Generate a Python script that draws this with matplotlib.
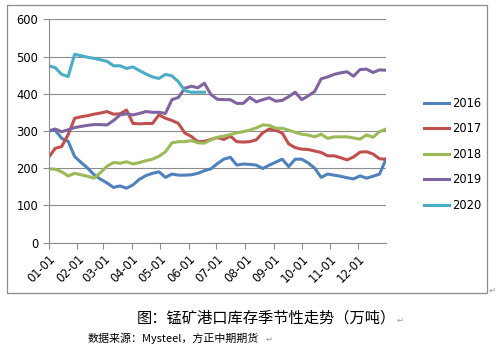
import matplotlib
matplotlib.use("Agg")
import matplotlib.pyplot as plt
from matplotlib.patches import Rectangle

# weekly port stock of manganese ore (10k tonnes), week 0 = Jan 1
s2016 = [300, 302, 280, 272, 231, 215, 200, 182, 170, 160, 148, 152, 146, 155, 170,
         180, 186, 190, 175, 184, 181, 181, 182, 186, 193, 198, 212, 224, 229, 208,
         211, 210, 208, 199, 208, 216, 224, 204, 224, 224, 214, 200, 175, 184, 181,
         178, 174, 171, 179, 173, 178, 184, 224]
s2017 = [229, 253, 258, 290, 334, 338, 341, 345, 348, 352, 345, 346, 356, 320, 319,
         320, 320, 343, 334, 328, 320, 294, 285, 271, 272, 277, 282, 277, 286, 271,
         270, 271, 276, 295, 305, 302, 294, 265, 255, 251, 250, 246, 242, 233, 233,
         228, 222, 230, 243, 244, 238, 225, 224]
s2018 = [198, 197, 190, 179, 186, 182, 178, 173, 188, 205, 215, 213, 217, 211, 215,
         220, 224, 232, 244, 268, 271, 271, 274, 268, 267, 276, 283, 286, 290, 295,
         298, 302, 308, 316, 315, 307, 307, 302, 296, 291, 289, 284, 291, 280, 284,
         284, 284, 281, 278, 289, 283, 298, 305]
s2019 = [300, 305, 298, 303, 309, 312, 315, 317, 317, 316, 328, 343, 346, 343, 347,
         352, 350, 350, 347, 384, 390, 415, 420, 416, 428, 398, 385, 384, 384, 374,
         374, 390, 378, 384, 389, 380, 382, 392, 404, 384, 394, 406, 440, 445, 452,
         456, 459, 447, 465, 466, 457, 464, 463]
s2020 = [475, 470, 452, 446, 506, 502, 498, 495, 491, 487, 475, 475, 468, 472, 462,
         453, 445, 441, 452, 448, 432, 408, 404, 404, 404]

years = ["2016", "2017", "2018", "2019", "2020"]
colors = ["#4F81BD", "#C0504D", "#9BBB59", "#8064A2", "#4BACC6"]
month_days = [0, 31, 59, 90, 120, 151, 181, 212, 243, 273, 304, 334]
month_labels = ["01-01", "02-01", "03-01", "04-01", "05-01", "06-01",
                "07-01", "08-01", "09-01", "10-01", "11-01", "12-01"]

fig = plt.figure(figsize=(4.98, 3.5), dpi=100)
fig.patch.set_facecolor("white")

# chart frame
fig.patches.append(Rectangle((7 / 498, 1 - 293 / 350), 480 / 498, 288 / 350,
                             transform=fig.transFigure, fill=False,
                             edgecolor="#8c8c8c", lw=0.9))

ax = fig.add_axes([48.7 / 498, 1 - 242.5 / 350, (386 - 48.7) / 498, (242.5 - 19.3) / 350])

for name, vals, c in zip(years, [s2016, s2017, s2018, s2019, s2020], colors):
    days = [7 * i for i in range(len(vals))]
    ax.plot(days, vals, color=c, lw=2.2, label=name, solid_joinstyle="round")

ax.set_xlim(0, 364)
ax.set_ylim(0, 600)
ax.set_yticks(range(0, 601, 100))
ax.yaxis.grid(True, color="#8c8c8c", lw=0.8)
ax.set_axisbelow(True)
ax.set_xticks(month_days)
ax.set_xticklabels(month_labels, rotation=45, ha="right", va="top",
                   rotation_mode="anchor")
ax.tick_params(axis="both", labelsize=8.3, color="#8c8c8c", length=4, width=0.8)
ax.tick_params(axis="x", pad=3)
for side in ["top", "right"]:
    ax.spines[side].set_visible(False)
for side in ["left", "bottom"]:
    ax.spines[side].set_color("#8c8c8c")
    ax.spines[side].set_linewidth(0.8)

ax.legend(loc="upper left", bbox_to_anchor=(418 / 498, 1 - 91 / 350),
          bbox_transform=fig.transFigure, frameon=False, fontsize=8.3,
          handlelength=2.2, handletextpad=0.25, labelspacing=1.08, borderpad=0)

fam = ["Noto Sans CJK SC", "DejaVu Sans"]
fig.text(492 / 498, 1 - 290 / 350, "↵", fontsize=6, color="#999999",
         ha="center", va="center", family=fam)
fig.text(266 / 498, 1 - 318 / 350, "图：锰矿港口库存季节性走势（万吨）", fontsize=11,
         ha="center", va="center", family=fam)
fig.text(400 / 498, 1 - 320 / 350, "↵", fontsize=6, color="#999999",
         ha="center", va="center", family=fam)
fig.text(88 / 498, 1 - 338 / 350, "数据来源：Mysteel，方正中期期货", fontsize=7.9,
         ha="left", va="center", style="italic", family=fam)
fig.text(269 / 498, 1 - 339 / 350, "↵", fontsize=6, color="#999999",
         ha="center", va="center", family=fam)

fig.savefig("out.png", dpi=100)
